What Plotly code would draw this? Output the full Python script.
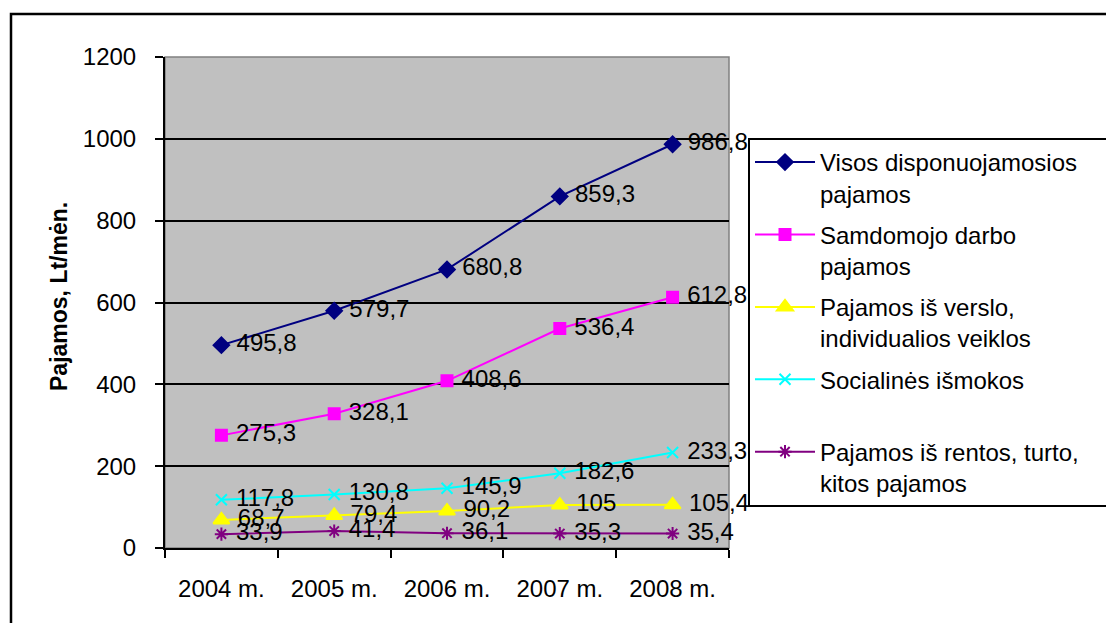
import plotly.graph_objects as go

years = ["2004 m.", "2005 m.", "2006 m.", "2007 m.", "2008 m."]
visos = [495.8, 579.7, 680.8, 859.3, 986.8]
samdomojo = [275.3, 328.1, 408.6, 536.4, 612.8]
verslo = [68.7, 79.4, 90.2, 105, 105.4]
socialines = [117.8, 130.8, 145.9, 182.6, 233.3]
rentos = [33.9, 41.4, 36.1, 35.3, 35.4]

names = [
    "Visos disponuojamosios\u00a0\u00a0\u00a0\u00a0\u00a0<br>pajamos",
    "Samdomojo darbo<br>pajamos",
    "Pajamos iš verslo,<br>individualios veiklos",
    "Socialinės išmokos<br>\u00a0",
    "Pajamos iš rentos, turto,<br>kitos pajamos",
]
colors = ["#000080", "#FF00FF", "#FFFF00", "#00FFFF", "#800080"]
symbols = ["diamond", "square", "triangle-up", "x-thin-open", "asterisk-open"]
sizes = [12, 11, 14, 11, 11]
series = [visos, samdomojo, verslo, socialines, rentos]

FONT = "Liberation Sans, Arial, sans-serif"
OFF = 8  # page body margin


def fmt(v):
    s = ("%g" % v).replace(".", ",")
    return "\u00a0" + s


fig = go.Figure()
for i, (vals, name, col, sym, sz) in enumerate(zip(series, names, colors, symbols, sizes)):
    fig.add_trace(go.Scatter(
        x=years, y=vals, name=name, mode="lines+markers+text",
        line=dict(color=col, width=2),
        marker=dict(symbol=sym, size=sz, color=col, line=dict(color=col, width=2)),
        text=[fmt(v) for v in vals], textposition="middle right",
        textfont=dict(family=FONT, size=24, color="black"),
        legendgroup="g%d" % i, cliponaxis=False,
    ))

W, H = 1114 - OFF, 623 - OFF
L, R, T, B = 165 - OFF, 729 - OFF, 57 - OFF, 548 - OFF
pw, ph = R - L, B - T


def px_x(x):
    return (x - OFF - L) / pw


def px_y(y):
    return (B - (y - OFF)) / ph


fig.update_layout(
    width=W, height=H,
    margin=dict(l=L, r=W - R, t=T, b=H - B, autoexpand=False),
    paper_bgcolor="white", plot_bgcolor="#C0C0C0",
    font=dict(family=FONT, size=24, color="black"),
    showlegend=True,
    legend=dict(
        x=px_x(748), y=px_y(138), xanchor="left", yanchor="top",
        bgcolor="white", bordercolor="black", borderwidth=2,
        font=dict(family=FONT, size=24, color="black"),
        valign="top", tracegroupgap=7, itemwidth=60,
        traceorder="grouped",
    ),
    xaxis=dict(
        type="category", range=[-0.5, 4.5], showgrid=False,
        showline=True, linecolor="black", linewidth=2,
        ticks="outside", tickson="boundaries", ticklen=8, tickcolor="black", tickwidth=2,
        ticklabelstandoff=18, tickfont=dict(size=24),
        fixedrange=True,
    ),
    yaxis=dict(
        range=[0, 1200], dtick=200, showgrid=True, gridcolor="black", gridwidth=1.5,
        showline=True, linecolor="black", linewidth=2, zeroline=False,
        ticks="outside", ticklen=8, tickcolor="black", tickwidth=2,
        ticklabelstandoff=14, tickfont=dict(size=24),
        fixedrange=True,
    ),
    shapes=[
        dict(type="rect", xref="paper", yref="paper", x0=0, x1=1, y0=0, y1=1,
             line=dict(color="#808080", width=1.5), layer="below"),
        dict(type="rect", xref="paper", yref="paper",
             x0=px_x(11), x1=px_x(1140), y0=px_y(14), y1=px_y(650),
             line=dict(color="black", width=2.5)),
    ],
    annotations=[
        dict(text="<b>Pajamos, Lt/mėn.</b>", xref="paper", yref="paper",
             x=px_x(59), y=px_y(297), xanchor="center", yanchor="middle",
             textangle=-90, showarrow=False,
             font=dict(family=FONT, size=23, color="black")),
    ],
)

fig.write_html("out.html")
